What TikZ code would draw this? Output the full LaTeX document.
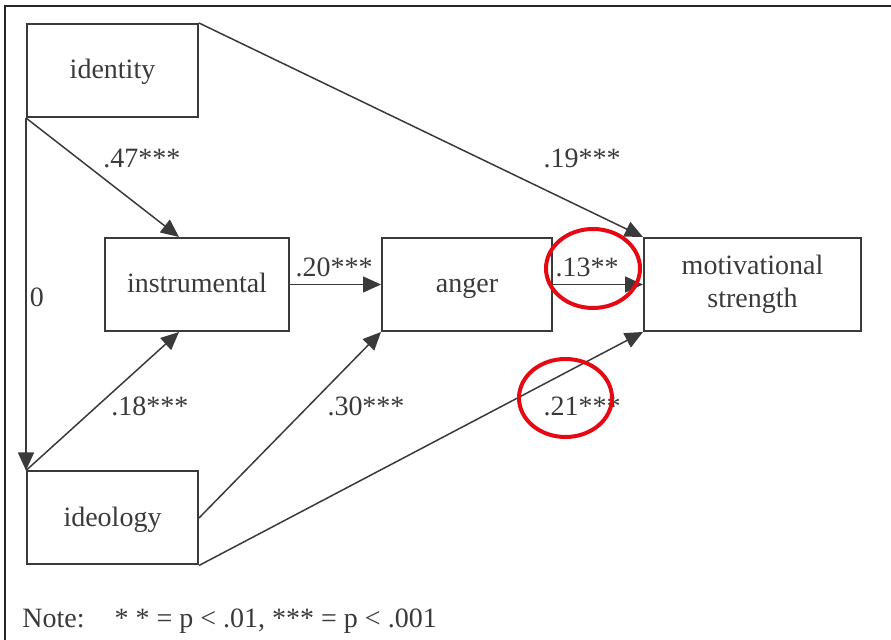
\documentclass[tikz,border=0pt]{standalone}
\usepackage{fontspec}
\setmainfont{Liberation Serif}
\usetikzlibrary{arrows.meta,calc}
\definecolor{ink}{HTML}{3A3A3A}
\definecolor{circred}{HTML}{E50914}
\begin{document}
\begin{tikzpicture}[x=0.5pt,y=-0.5pt,
  box/.style={draw=ink,line width=1pt,inner sep=0pt,minimum height=46.5pt,
    text=ink,font=\fontsize{14}{16.5}\selectfont,align=center},
  onebox/.style={box,text height=10pt,text depth=1.5pt},
  conn/.style={draw=ink,line width=0.75pt,-{Triangle[length=9pt,width=8pt]}},
  lbl/.style={text=ink,inner sep=0pt,font=\fontsize{14}{16.5}\selectfont},
  frameline/.style={draw=black!85,line width=1.3pt},
  ring/.style={draw=circred,line width=2pt}]
\useasboundingbox (0,0) rectangle (891,640);
% frame (top and left edges visible)
\draw[frameline] (5,640) -- (5,6) -- (891,6);
% boxes
\node[onebox,minimum width=85.5pt] (identity) at (112.5,70.5) {identity};
\node[onebox,minimum width=92pt] (instr) at (197,284.5) {instrumental};
\node[onebox,minimum width=85pt] (anger) at (467,284.5) {anger};
\node[box,minimum width=108.5pt] (motiv) at (752.5,284.5) {motivational\\strength};
\node[onebox,minimum width=85.5pt] (ideology) at (112.5,518) {ideology};
% connectors
\draw[conn] (identity.north east) -- (motiv.north west);
\draw[conn] (identity.south west) -- (ideology.north west);
\draw[conn] (identity.south west) -- ($(instr.north west)+(75,0)$);
\draw[conn] (ideology.north west) -- ($(instr.south west)+(75,0)$);
\draw[conn] (ideology.east) -- (anger.south west);
\draw[conn] (ideology.south east) -- (motiv.south west);
\draw[conn] (instr.east) -- (anger.west);
\draw[conn] (anger.east) -- (motiv.west);
% labels
\node[lbl] (l47) at (142,158) {.47***};
\node[lbl] (l19) at (582,158) {.19***};
\node[lbl] (l0) at (37,297) {0};
\node[lbl] (l20) at (334,267) {.20***};
\node[lbl] (l13) at (587,267) {.13**};
\node[lbl] (l18) at (150,406) {.18***};
\node[lbl] (l30) at (366,406) {.30***};
\node[lbl] (l21) at (582,406) {.21***};
\node[lbl,anchor=west] (note) at (22,621) {Note:\hspace{15pt}* * = p < .01, *** = p < .001};
% red highlight rings
\draw[ring] (593,268.5) ellipse [x radius=47, y radius=39.5];
\draw[ring] (565.5,398) ellipse [x radius=46.5, y radius=39];
\end{tikzpicture}
\end{document}
